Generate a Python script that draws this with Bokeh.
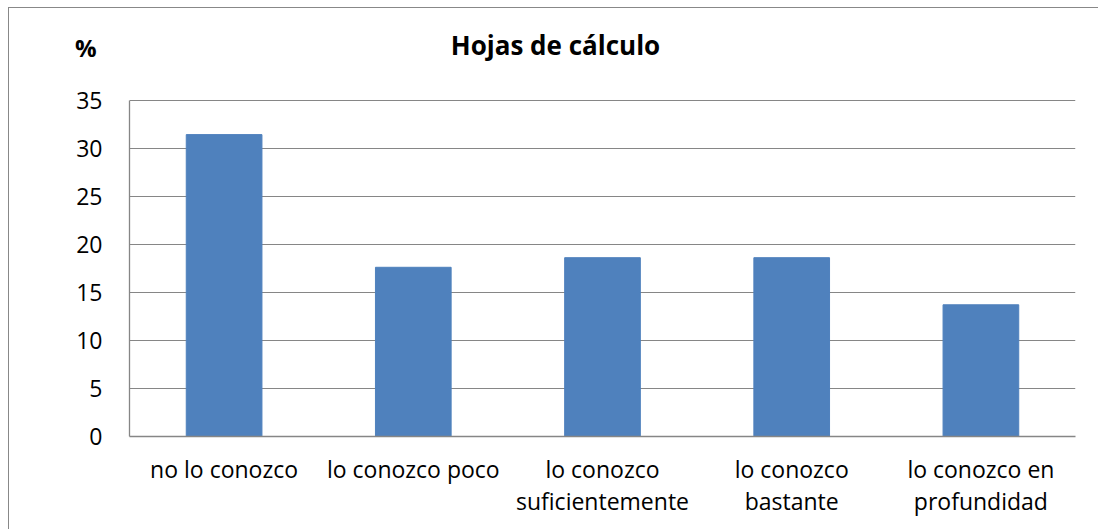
from bokeh.plotting import figure
from bokeh.models import Range1d, FactorRange, FixedTicker, LinearAxis
from bokeh.core.properties import value
from bokeh.embed import file_html
from bokeh.resources import INLINE

categories = ["no lo conozco", "lo conozco poco", "lo conozco\nsuficientemente",
              "lo conozco\nbastante", "lo conozco en\nprofundidad"]
values = [31.4, 17.6, 18.6, 18.6, 13.7]
y_ticks = [0, 5, 10, 15, 20, 25, 30, 35]
title_text = "Hojas de cálculo"
unit_text = "%"

FONT = "Open Sans"
GRAY = "#868686"

# layout (pixels)
FIG_W, FIG_H = 1090, 522
B_LEFT, B_RIGHT, B_BOTTOM = 120, 24, 94
PLOT_TOP_PX = 91.5          # distance from figure top to the 35 gridline
Y_TOP = y_ticks[-1]
px_per_unit = (FIG_H - B_BOTTOM - PLOT_TOP_PX) / Y_TOP
y_max = Y_TOP + PLOT_TOP_PX / px_per_unit
title_y = Y_TOP + (PLOT_TOP_PX - 36.5) / px_per_unit   # baseline position
unit_y = Y_TOP + (PLOT_TOP_PX - 39) / px_per_unit

p = figure(width=FIG_W, height=FIG_H, output_backend="svg", toolbar_location=None,
           x_range=FactorRange(*categories, range_padding=0), y_range=Range1d(0, y_max),
           y_axis_location=None,
           min_border_left=B_LEFT, min_border_top=0, min_border_right=B_RIGHT,
           min_border_bottom=B_BOTTOM)
p.styles = {"margin-left": "8px", "margin-top": "7px",
            "border-left": "1px solid #888888", "border-top": "1px solid #888888"}

p.vbar(x=categories, top=values, width=0.4, fill_color="#4F81BD", line_color="#4F81BD")

# y axis (0-35)
yax = LinearAxis(ticker=FixedTicker(ticks=y_ticks), bounds=(0, Y_TOP))
# extra axis carrying the "%" unit label
uax = LinearAxis(ticker=FixedTicker(ticks=[unit_y]), major_label_overrides={unit_y: unit_text})
p.add_layout(yax, "left")
p.add_layout(uax, "left")

p.outline_line_color = None
p.xgrid.grid_line_color = None
p.ygrid.ticker = FixedTicker(ticks=y_ticks)
p.ygrid.grid_line_color = GRAY
p.ygrid.grid_line_width = 1

for ax in (p.xaxis[0], yax):
    ax.axis_line_color = GRAY
    ax.axis_line_width = 1.3
    ax.major_tick_line_color = None
    ax.minor_tick_line_color = None
    ax.major_tick_out = 0
    ax.major_tick_in = 0
    ax.major_label_text_font = FONT
    ax.major_label_text_font_size = "23px"
    ax.major_label_text_color = "black"
yax.major_label_standoff = 27
p.xaxis.major_label_standoff = 16
p.xaxis.major_label_text_line_height = 1.03

uax.axis_line_color = None
uax.major_tick_line_color = None
uax.minor_tick_line_color = None
uax.major_tick_out = 0
uax.major_tick_in = 0
uax.major_label_standoff = -23
uax.major_label_text_font = FONT
uax.major_label_text_font_size = "24px"
uax.major_label_text_font_style = "bold"
uax.major_label_text_color = "black"

p.text(x=[categories[2]], y=[title_y], text=[title_text], x_offset=-47,
       text_font=value(FONT), text_font_size="26px", text_font_style="bold",
       text_align="center", text_baseline="alphabetic", text_color="black")

open("out.html", "w").write(file_html(p, INLINE))
